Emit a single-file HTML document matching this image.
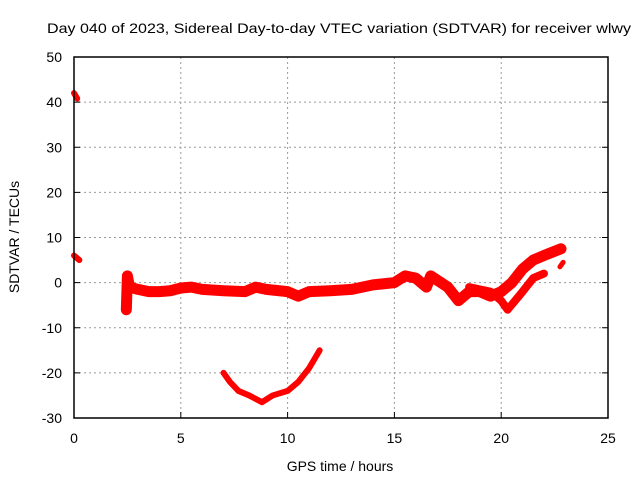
<!DOCTYPE html>
<html><head><meta charset="utf-8"><style>
body{margin:0;background:#fff}
svg{display:block;font-family:"Liberation Sans",sans-serif}
</style></head><body>
<svg id="chart" width="640" height="480">
<text x="47" y="33" font-size="14" textLength="584" lengthAdjust="spacingAndGlyphs">Day 040 of 2023, Sidereal Day-to-day VTEC variation (SDTVAR) for receiver wlwy</text>
<g id="grid"></g><g id="ticks"></g><g id="series"></g>
<rect x="74" y="57" width="534" height="361" fill="none" stroke="#000" stroke-width="1.5"/>
<text x="340" y="471" font-size="14" text-anchor="middle">GPS time / hours</text>
<text transform="translate(19,237) rotate(-90)" font-size="14" text-anchor="middle">SDTVAR / TECUs</text>
</svg>
<script>
const xTicks=[0,5,10,15,20,25];
const yTicks=[50,40,30,20,10,0,-10,-20,-30];
const bandHours=[2.45,2.5,2.6,3,3.5,4,4.5,5,5.5,6,7,8,8.5,9,10,10.5,11,12,13,14,15,15.5,16,16.5,16.7,17.5,18,18.5,19,19.5,20,20.5,21,21.5,22,22.8];
const bandValues=[-6,1.5,-1,-1.5,-2,-2,-1.8,-1.2,-1,-1.5,-1.8,-2,-1,-1.5,-2,-3,-2,-1.8,-1.5,-0.5,0,1.5,1,-1,1.5,-1,-4,-2,-2,-3,-2,0,3,5,6,7.5];
const branchHours=[18.5,19.5,20,20.3,21,21.5,22];
const branchValues=[-1,-2,-4,-6,-2,1,2];
const vHours=[7,7.3,7.7,8.2,8.8,9.3,10,10.5,11,11.5];
const vValues=[-20,-22,-24,-25,-26.5,-25,-24,-22,-19,-15];
const c1Hours=[0,0.15];const c1Values=[42,40.8];
const c2Hours=[0,0.25];const c2Values=[6,5];
const c3Hours=[22.75,22.9];const c3Values=[3.5,4.5];
const X=h=>74+h*534/25, Y=v=>57+(50-v)*361/80;
const NS="http://www.w3.org/2000/svg";
const mk=(t,a,p)=>{const e=document.createElementNS(NS,t);for(const k in a)e.setAttribute(k,a[k]);p.appendChild(e);return e;};
const g=document.getElementById('grid'),tk=document.getElementById('ticks'),s=document.getElementById('series');
xTicks.forEach(t=>{
 if(t>0&&t<25){const l=mk('line',{x1:X(t),x2:X(t),y1:57,y2:418,stroke:'#999','stroke-dasharray':'2,3'},g);
 
 }
 const tx=mk('text',{x:X(t),y:443,'font-size':14,'text-anchor':'middle'},tk);tx.textContent=t;
 
 
 mk('line',{x1:X(t),x2:X(t),y1:418,y2:412,stroke:'#000'},tk);
});
yTicks.forEach(t=>{
 if(t<50&&t>-30){const l=mk('line',{x1:74,x2:608,y1:Y(t),y2:Y(t),stroke:'#999','stroke-dasharray':'2,3'},g);
 
 }
 const tx=mk('text',{x:62,y:Y(t)+5,'font-size':14,'text-anchor':'end'},tk);tx.textContent=t;
 
 
 mk('line',{x1:74,x2:80,y1:Y(t),y2:Y(t),stroke:'#000'},tk);
 mk('line',{x1:608,x2:602,y1:Y(t),y2:Y(t),stroke:'#000'},tk);
});
function line(hs,vs,w,name){
 const p=mk('polyline',{points:hs.map((h,i)=>X(h)+','+Y(vs[i])).join(' '),fill:'none',stroke:'#f00','stroke-width':w,'stroke-linejoin':'round','stroke-linecap':'round'},s);
 
 
}
line(bandHours,bandValues,11,'main-band-series');
line(branchHours,branchValues,8,'branch-series');
line(vHours,vValues,6,'v-arc-series');
line(c1Hours,c1Values,6,'early-cluster-high');
line(c2Hours,c2Values,6,'early-cluster-low');
line(c3Hours,c3Values,5,'late-cluster');
</script>
</body></html>
